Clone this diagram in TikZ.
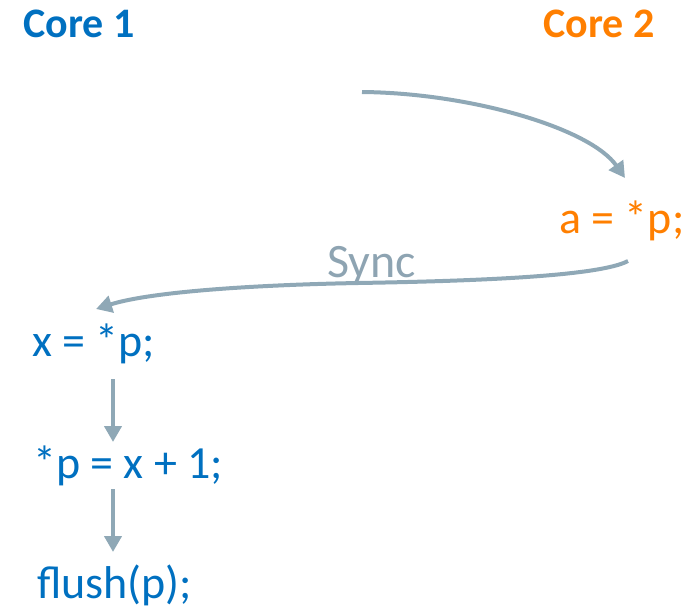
\documentclass[tikz,border=0pt]{standalone}
\usepackage{fontspec}
\setmainfont{Carlito}
\usetikzlibrary{arrows.meta,calc}
\definecolor{cblue}{HTML}{0070C0}
\definecolor{corange}{HTML}{FF7F00}
\definecolor{cgray}{HTML}{8FA8B6}
\definecolor{cgtext}{HTML}{8EA4B2}
\tikzset{
  hdr/.style={font=\fontsize{42}{46}\selectfont\bfseries, inner sep=0pt, anchor=base west},
  code/.style={font=\fontsize{46}{50}\selectfont, inner sep=0pt, anchor=base west},
  arr/.style={draw=cgray, line width=4pt, -{Triangle[length=16pt,width=17pt]}},
}
\begin{document}
\begin{tikzpicture}[x=1pt,y=-1pt]
\useasboundingbox (0,0) rectangle (695,613);
\node[hdr, text=cblue] (c1) at (23,37) {Core 1};
\node[hdr, text=corange] (c2) at (543,37) {Core 2};
\node[code, text=corange] (a) at (559,233) {a = *p;};
\node[code, text=cblue] (x1) at (32,356) {x = *p;};
\node[code, text=cblue] (x2) at (33,478) {*p = x + 1;};
\node[code, text=cblue] (x3) at (37,598) {flush(p);};
\node[font=\fontsize{48}{52}\selectfont, text=cgtext, inner sep=0pt, anchor=base west] (sync) at (327,277) {Sync};
\coordinate (t0) at (362,92);
\coordinate (t1) at (625,178);
\draw[arr] (t0) .. controls (470,93) and (590,128) .. (t1);
\coordinate (s0) at (628,261);
\coordinate (s1) at (96,309);
\draw[arr] (s0) .. controls (600,276) and (480,281) .. (358,283)
  .. controls (250,285) and (150,292) .. (s1);
\draw[arr] ($(x1.base west)+(81,23)$) -- ($(x2.base west)+(80,-36)$);
\draw[arr] ($(x2.base west)+(80,11)$) -- ($(x3.base west)+(76,-46)$);
\end{tikzpicture}
\end{document}
